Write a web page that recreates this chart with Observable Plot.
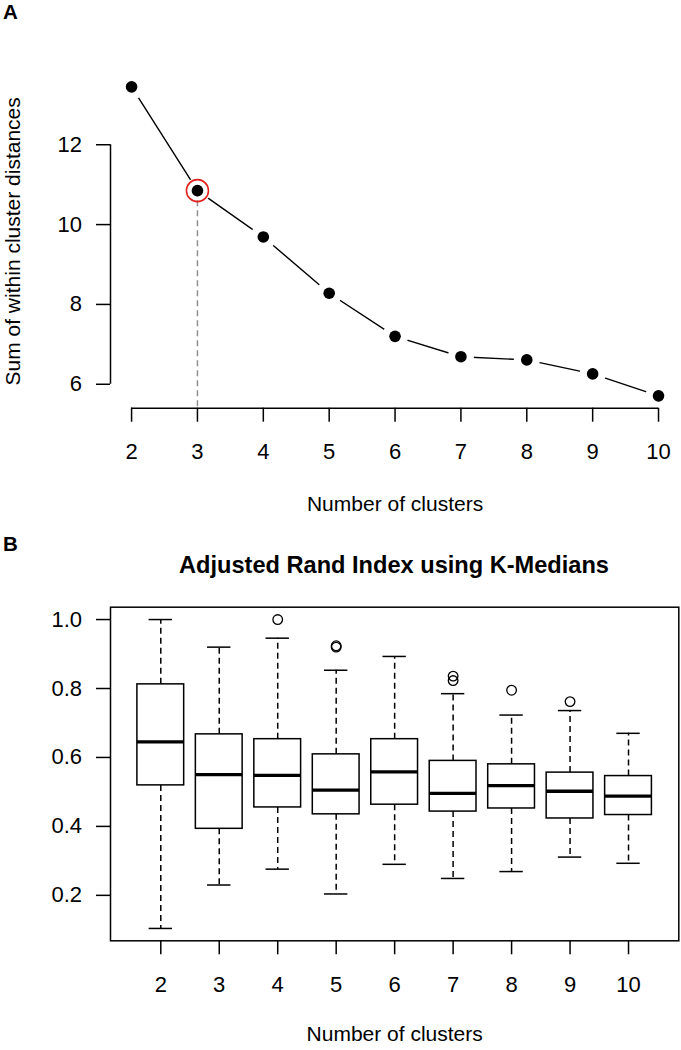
<!DOCTYPE html>
<html>
<head>
<meta charset="utf-8">
<script src="https://cdn.jsdelivr.net/npm/d3@7"></script>
<script src="https://cdn.jsdelivr.net/npm/@observablehq/plot@0.6"></script>
<style>
  html, body { margin: 0; padding: 0; background: white; }
  #root { position: relative; width: 681px; height: 1050px; overflow: hidden; font-family: 'Liberation Sans', Arial, Helvetica, sans-serif; color: black; }
  .panel { position: absolute; left: 0; }
  .tag { position: absolute; left: 3px; font-weight: bold; font-size: 20.5px; line-height: 1; }
  .title { position: absolute; left: 110px; width: 568px; text-align: center; font-weight: bold; font-size: 23.6px; line-height: 1; }
</style>
</head>
<body>
<div id="root">
  <div id="panelA" class="panel" style="top:0px"></div>
  <div id="panelB" class="panel" style="top:530px"></div>
  <div class="tag" style="top:1.8px">A</div>
  <div class="tag" style="top:534.4px">B</div>
  <div class="title" style="top:554px">Adjusted Rand Index using K-Medians</div>
</div>
<script>
// ---------- Panel A data ----------
const clustersA = [2, 3, 4, 5, 6, 7, 8, 9, 10];
const withinDist = [13.45, 10.85, 9.69, 8.28, 7.20, 6.69, 6.61, 6.26, 5.71];
const chosenK = 3;
const yTicksA = [6, 8, 10, 12];
const xLabelA = "Number of clusters";
const yLabelA = "Sum of within cluster distances";

// ---------- Panel B data ----------
const clustersB = [2, 3, 4, 5, 6, 7, 8, 9, 10];
const whiskerLow  = [0.104, 0.230, 0.276, 0.204, 0.290, 0.249, 0.269, 0.311, 0.293];
const quart1      = [0.519, 0.393, 0.455, 0.435, 0.463, 0.443, 0.452, 0.423, 0.433];
const medians     = [0.645, 0.550, 0.548, 0.505, 0.558, 0.496, 0.518, 0.502, 0.488];
const quart3      = [0.812, 0.667, 0.653, 0.609, 0.653, 0.590, 0.580, 0.556, 0.546];
const whiskerHigh = [1.000, 0.920, 0.946, 0.853, 0.893, 0.785, 0.723, 0.736, 0.670];
const outlierK    = [4, 5, 5, 7, 7, 8, 9];
const outlierVal  = [1.000, 0.924, 0.920, 0.836, 0.823, 0.795, 0.762];
const yTicksB = [0.2, 0.4, 0.6, 0.8, 1.0];
const xLabelB = "Number of clusters";

// ---------- helpers ----------
const FONT = "'Liberation Sans', Arial, Helvetica, sans-serif";
const LW = 1.5;
function extend4(lo, hi) { const d = (hi - lo) * 0.04; return [lo - d, hi + d]; }

// ---------- Panel A ----------
const rowsA = clustersA.map((k, i) => ({k, v: withinDist[i]}));
const chosen = rowsA.filter(d => d.k === chosenK);
const [xminA, xmaxA] = extend4(d3.min(clustersA), d3.max(clustersA));
const [yminA, ymaxA] = extend4(d3.min(withinDist), d3.max(withinDist));

const plotA = Plot.plot({
  width: 681, height: 530,
  marginTop: 74, marginBottom: 122.3, marginLeft: 110, marginRight: 1.9,
  style: {fontFamily: FONT, fontSize: "22px", color: "black", background: "white", overflow: "visible"},
  x: {domain: [xminA, xmaxA], axis: null},
  y: {domain: [yminA, ymaxA], axis: null},
  marks: [
    Plot.line(rowsA, {x: "k", y: "v", stroke: "black", strokeWidth: 1.4}),
    Plot.dot(rowsA, {x: "k", y: "v", r: 13, fill: "white"}),
    Plot.ruleY([yminA], {x1: clustersA[0], x2: clustersA[clustersA.length - 1], stroke: "black", strokeWidth: LW}),
    Plot.ruleX([xminA], {y1: yTicksA[0], y2: yTicksA[yTicksA.length - 1], stroke: "black", strokeWidth: LW}),
    Plot.axisX({ticks: clustersA, tickSize: 14, tickPadding: 21.5, tickFormat: d => String(d), label: null, strokeWidth: LW}),
    Plot.axisY({ticks: yTicksA, tickSize: 14, tickPadding: 14.5, tickFormat: d => String(d), label: null, strokeWidth: LW}),
    Plot.ruleX(chosen, {x: "k", y1: "v", y2: yminA, stroke: "#8f8f8f", strokeWidth: 1.5, strokeDasharray: "6,4"}),
    Plot.dot(rowsA, {x: "k", y: "v", r: 5.8, fill: "black"}),
    Plot.dot(chosen, {x: "k", y: "v", r: 11, fill: "none", stroke: "#e3211c", strokeWidth: 1.6}),
    Plot.text([xLabelA], {frameAnchor: "bottom", textAnchor: "middle", dy: 102.6, fill: "black", fontSize: 21}),
    Plot.text([yLabelA], {frameAnchor: "left", textAnchor: "middle", rotate: -90, dx: -97.2, fill: "black", fontSize: 21})
  ]
});
document.getElementById("panelA").appendChild(plotA);

// ---------- Panel B ----------
const rowsB = clustersB.map((k, i) => ({
  k, lo: whiskerLow[i], q1: quart1[i], med: medians[i], q3: quart3[i], hi: whiskerHigh[i]
}));
const outliers = outlierK.map((k, i) => ({k, v: outlierVal[i]}));
const [xminB, xmaxB] = extend4(d3.min(clustersB) - 0.5, d3.max(clustersB) + 0.5);
const [yminB, ymaxB] = extend4(d3.min([...whiskerLow, ...outlierVal]), d3.max([...whiskerHigh, ...outlierVal]));
const BOX = 0.4, CAP = 0.2;

const plotB = Plot.plot({
  width: 681, height: 520,
  marginTop: 76.7, marginBottom: 109.7, marginLeft: 110, marginRight: 2.7,
  style: {fontFamily: FONT, fontSize: "22px", color: "black", background: "white", overflow: "visible"},
  x: {domain: [xminB, xmaxB], axis: null},
  y: {domain: [yminB, ymaxB], axis: null},
  marks: [
    Plot.ruleX(rowsB, {x: "k", y1: "q3", y2: "hi", stroke: "black", strokeWidth: LW, strokeDasharray: "6,4"}),
    Plot.ruleX(rowsB, {x: "k", y1: "q1", y2: "lo", stroke: "black", strokeWidth: LW, strokeDasharray: "6,4"}),
    Plot.ruleY(rowsB, {y: "hi", x1: d => d.k - CAP, x2: d => d.k + CAP, stroke: "black", strokeWidth: LW}),
    Plot.ruleY(rowsB, {y: "lo", x1: d => d.k - CAP, x2: d => d.k + CAP, stroke: "black", strokeWidth: LW}),
    Plot.rect(rowsB, {x1: d => d.k - BOX, x2: d => d.k + BOX, y1: "q1", y2: "q3", fill: "white", stroke: "black", strokeWidth: LW}),
    Plot.ruleY(rowsB, {y: "med", x1: d => d.k - BOX, x2: d => d.k + BOX, stroke: "black", strokeWidth: 3.3}),
    Plot.dot(outliers, {x: "k", y: "v", r: 4.8, fill: "none", stroke: "black", strokeWidth: 1.3}),
    Plot.frame({stroke: "black", strokeWidth: LW}),
    Plot.axisX({ticks: clustersB, tickSize: 14, tickPadding: 21.5, tickFormat: d => String(d), label: null, strokeWidth: LW}),
    Plot.axisY({ticks: yTicksB, tickSize: 14, tickPadding: 14.5, tickFormat: d => d.toFixed(1), label: null, strokeWidth: LW}),
    Plot.text([xLabelB], {frameAnchor: "bottom", textAnchor: "middle", dy: 100.5, fill: "black", fontSize: 21})
  ]
});
document.getElementById("panelB").appendChild(plotB);
</script>
</body>
</html>
